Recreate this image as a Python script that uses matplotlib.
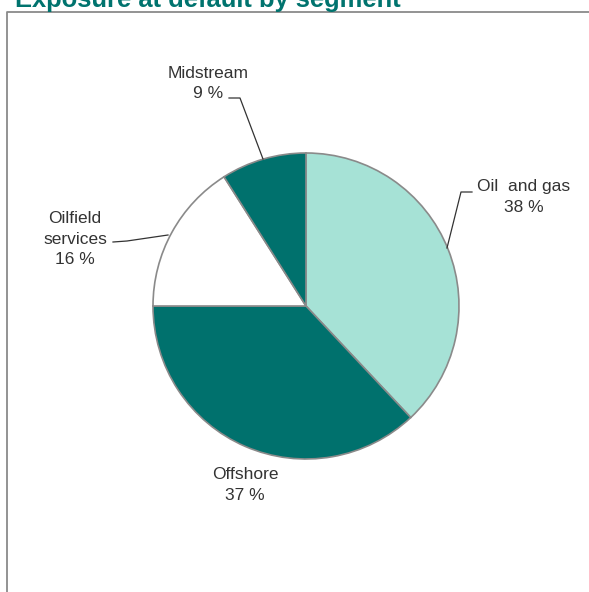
import matplotlib
matplotlib.use('Agg')
import matplotlib.pyplot as plt
from matplotlib.lines import Line2D

plt.rcParams['font.family'] = ['Liberation Sans', 'DejaVu Sans']

title = 'Exposure at default by segment'
segments = ['Oil  and gas', 'Offshore', 'Oilfield services', 'Midstream']
shares = [38, 37, 16, 9]
colors = ['#a6e2d6', '#00716d', '#ffffff', '#00716d']

# label text lines (name lines + percentage), positions in pixels from top-left
label_lines = [
    ['Oil  and gas', '38 %'],
    ['Offshore', '37 %'],
    ['Oilfield', 'services', '16 %'],
    ['Midstream', '9 %'],
]
label_xy = [(524, 191), (245, 479), (75, 223), (208, 78)]
leaders = [
    [(472, 192), (461, 192), (447, 248)],
    None,
    [(113, 242), (127, 241), (168, 235)],
    [(229, 98), (240, 98), (263, 159)],
]

W, H = 589, 592
fig = plt.figure(figsize=(W / 100, H / 100), dpi=100)
ax = fig.add_axes([0, 0, 1, 1])

ax.pie(shares, colors=colors, startangle=90, counterclock=False,
       center=(306, H - 306), radius=153, frame=True,
       wedgeprops=dict(edgecolor='#8a8a8a', linewidth=1.2))
ax.set_xlim(0, W)
ax.set_ylim(0, H)
ax.set_aspect('equal')
ax.axis('off')

line_h = 20.5
for lines, (x, y) in zip(label_lines, label_xy):
    for i, t in enumerate(lines):
        ax.text(x, H - (y + i * line_h), t, ha='center', va='baseline',
                fontsize=12.5, color='#333333')

for pts in leaders:
    if pts is None:
        continue
    xs = [p[0] for p in pts]
    ys = [H - p[1] for p in pts]
    ax.plot(xs, ys, color='#333333', linewidth=0.9)

# frame around chart area (only left and top visible)
ax.add_line(Line2D([7, 7, W + 5], [-5, H - 12, H - 12], color='#8a8a8a', linewidth=1.3))

ax.text(15, H - 7, title, ha='left', va='baseline', fontsize=18.4,
        fontweight='bold', color='#00736e')

fig.savefig('out.png', dpi=100)
